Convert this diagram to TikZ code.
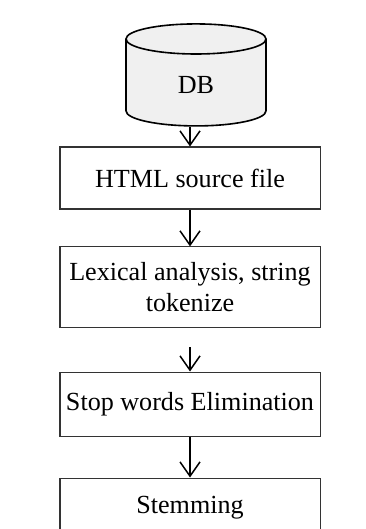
\documentclass[tikz,border=0pt]{standalone}
\usepackage{fontspec}
\setmainfont{Liberation Serif}
\usetikzlibrary{arrows.meta,positioning,shapes.geometric}

\begin{document}
\begin{tikzpicture}[
    stage/.style={rectangle, draw=black!80, line width=1pt, minimum width=9.1cm,
                  align=center, inner sep=2pt, font=\fontsize{26}{31}\selectfont},
    store/.style={cylinder, shape border rotate=90, draw, line width=1.6pt,
                  fill=gray!12, minimum width=4.9cm, minimum height=3.57cm,
                  aspect=0.7, font=\fontsize{26}{31}\selectfont},
    flow/.style={-{Straight Barb[length=0.5cm, width=0.7cm]}, line width=1.5pt}
  ]
    \useasboundingbox (0,0) rectangle (12.775,-18.515);

    % Database
    \node[store] (db) at (6.86,-2.98) {DB};

    % Processing steps
    \node[stage, minimum height=2.17cm]  (html) at (6.65,-6.23)  {HTML source file};
    \node[stage, minimum height=2.835cm] (lex)  at (6.65,-10.06) {Lexical analysis, string\\tokenize};
    \node[stage, minimum height=2.24cm]  (stop) at (6.65,-14.14) {Stop words Elimination};
    \node[stage, minimum height=2.1cm]   (stem) at (6.65,-17.78) {Stemming};

    % Arrows
    \draw[flow] (db.south -| html.north) -- (html.north);
    \draw[flow] (html) -- (lex);
    \draw[flow, shorten <=0.66cm] (lex) -- (stop);
    \draw[flow] (stop) -- (stem);
  \end{tikzpicture}
\end{document}
